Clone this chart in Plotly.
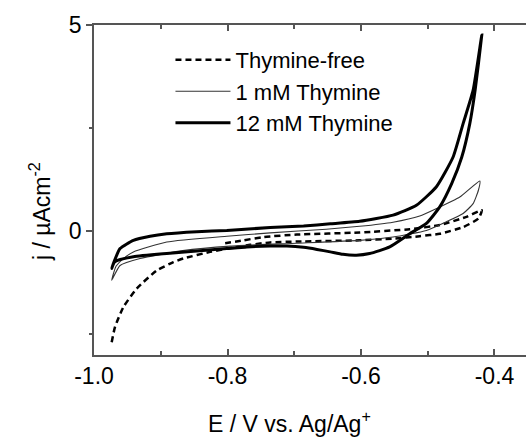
import plotly.graph_objects as go

# Thymine-free (dashed): forward scan then return
free_E = [-0.9735, -0.9685, -0.956, -0.936, -0.906, -0.881, -0.866, -0.826, -0.801, -0.766,
          -0.736, -0.696, -0.602, -0.552, -0.512, -0.482, -0.447, -0.424, -0.419,
          -0.442, -0.482, -0.527, -0.602, -0.696, -0.746, -0.776, -0.807]
free_j = [-2.69, -2.32, -1.84, -1.39, -0.95, -0.75, -0.66, -0.50, -0.42, -0.33,
          -0.27, -0.25, -0.22, -0.18, -0.12, -0.06, 0.10, 0.31, 0.51,
          0.35, 0.15, 0.05, -0.03, -0.08, -0.14, -0.22, -0.30]

# 1 mM Thymine (thin)
one_E = [-0.9735, -0.967, -0.955, -0.941, -0.891, -0.801, -0.736, -0.652, -0.602, -0.552,
         -0.512, -0.487, -0.452, -0.422,
         -0.424, -0.432, -0.447, -0.472, -0.502, -0.552, -0.602, -0.696, -0.796, -0.867,
         -0.931, -0.961, -0.9735]
one_j = [-1.19, -0.85, -0.65, -0.50, -0.26, -0.12, -0.04, 0.05, 0.12, 0.22,
         0.37, 0.55, 0.83, 1.22,
         1.00, 0.67, 0.43, 0.23, 0.02, -0.14, -0.22, -0.29, -0.36, -0.47,
         -0.66, -0.83, -1.19]

# 12 mM Thymine (thick)
twelve_E = [-0.9735, -0.969, -0.961, -0.941, -0.916, -0.891, -0.846, -0.801, -0.736, -0.686,
            -0.646, -0.602, -0.552, -0.517, -0.487, -0.462, -0.447, -0.432, -0.419,
            -0.429, -0.437, -0.449, -0.464, -0.482, -0.502, -0.527, -0.557, -0.587, -0.607,
            -0.627, -0.646, -0.666, -0.686, -0.711, -0.736, -0.771, -0.801, -0.846, -0.891,
            -0.941, -0.969, -0.9735]
twelve_j = [-0.90, -0.70, -0.42, -0.22, -0.12, -0.06, -0.01, 0.02, 0.09, 0.13,
            0.18, 0.24, 0.39, 0.63, 1.08, 1.80, 2.61, 3.42, 4.76,
            3.42, 2.61, 1.80, 1.16, 0.59, 0.19, -0.06, -0.38, -0.54, -0.58,
            -0.56, -0.50, -0.44, -0.39, -0.36, -0.36, -0.38, -0.42, -0.48, -0.54,
            -0.62, -0.74, -0.90]

x_tickvals = [-1.0, -0.8, -0.6, -0.4]
x_ticktext = ["-1.0", "-0.8", "-0.6", "-0.4"]
y_tickvals = [0, 5]
y_ticktext = ["0", "5"]

FONT = "Liberation Sans, Arial, sans-serif"
AX = "#555555"

fig = go.Figure()
fig.add_trace(go.Scatter(x=free_E, y=free_j, mode="lines", name="Thymine-free",
                         line=dict(color="black", width=2.5, dash="6px,4px", shape="spline", smoothing=0.5)))
fig.add_trace(go.Scatter(x=one_E, y=one_j, mode="lines", name="1 mM Thymine",
                         line=dict(color="#333333", width=1.1, shape="spline", smoothing=0.5)))
fig.add_trace(go.Scatter(x=twelve_E, y=twelve_j, mode="lines", name="12 mM Thymine",
                         line=dict(color="black", width=3, shape="spline", smoothing=0.5)))

fig.update_layout(
    width=526, height=437,
    margin=dict(l=94, r=0, t=25, b=82),
    paper_bgcolor="white", plot_bgcolor="white",
    font=dict(family=FONT, size=23, color="black"),
    showlegend=True,
    legend=dict(x=0.177, y=0.958, xanchor="left", yanchor="top",
                bgcolor="rgba(0,0,0,0)", font=dict(size=22), itemwidth=55,
                tracegroupgap=0, borderwidth=0),
    xaxis=dict(range=[-1.0, -0.3528], showgrid=False, zeroline=False,
               showline=True, linecolor=AX, linewidth=1.5, mirror="allticks",
               ticks="inside", ticklen=6, tickcolor=AX, tickwidth=1.5,
               tickvals=x_tickvals, ticktext=x_ticktext,
               tickfont=dict(size=23),
               minor=dict(dtick=0.1, ticks="inside", ticklen=4, tickcolor=AX, tickwidth=1.5)),
    yaxis=dict(range=[-3, 5], showgrid=False, zeroline=False,
               showline=True, linecolor=AX, linewidth=1.5,
               ticks="outside", ticklen=6, tickcolor=AX, tickwidth=1.5,
               tickvals=y_tickvals, ticktext=y_ticktext,
               tickfont=dict(size=23),
               minor=dict(tickvals=[-2.5, 2.5], ticks="outside", ticklen=3, tickcolor=AX, tickwidth=1.5)),
    annotations=[
        dict(text="E / V vs. Ag/Ag<sup>+</sup>", xref="paper", yref="paper",
             x=0.4537, y=-0.152, xanchor="center", yanchor="top", showarrow=False,
             font=dict(size=23)),
        dict(text="j / µAcm<sup>-2</sup>", xref="paper", yref="paper",
             x=-0.125, y=0.433, xanchor="center", yanchor="middle", textangle=-90,
             showarrow=False, font=dict(size=23)),
    ],
)

fig.write_html("out.html")
